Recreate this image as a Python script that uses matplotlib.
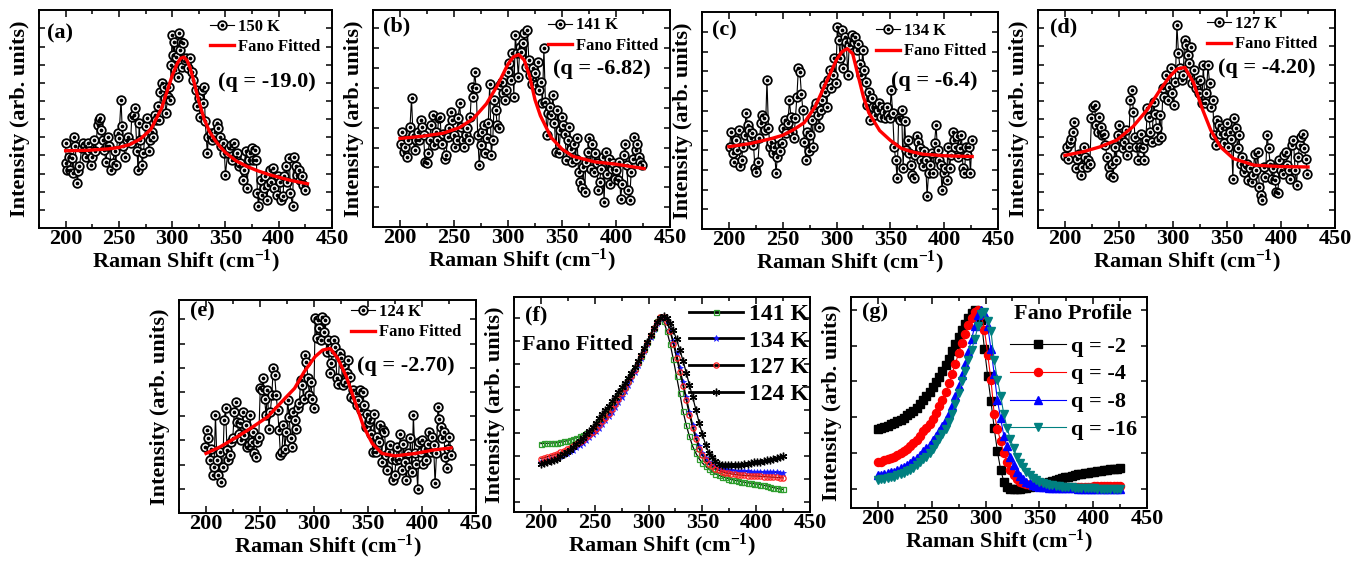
import numpy as np
import matplotlib
matplotlib.use('Agg')
import matplotlib.pyplot as plt
from matplotlib.ticker import MultipleLocator

plt.rcParams['font.family'] = ['Liberation Serif', 'DejaVu Serif']
plt.rcParams['font.weight'] = 'bold'
plt.rcParams['axes.labelweight'] = 'bold'
plt.rcParams['mathtext.fontset'] = 'custom'
plt.rcParams['mathtext.rm'] = 'Liberation Serif:bold'
plt.rcParams['mathtext.bf'] = 'Liberation Serif:bold'
plt.rcParams['mathtext.default'] = 'bf'

# ---------------- data: panel (a) 150 K ----------------
xa = [200, 200.5, 201, 203, 204, 206, 207, 208, 209, 211, 212, 213, 215, 216, 218, 219, 221, 222, 224, 225,
      227, 228, 230, 231, 232, 233, 235, 236, 238, 239, 240, 241, 243, 244, 246, 247, 249, 250, 252, 253,
      254, 256, 258, 259, 261, 262, 264, 265, 267, 268, 269, 270, 272, 273, 275, 276, 278, 279, 281, 282,
      284, 285, 287, 288, 289, 290, 292, 293, 294, 296, 297, 298, 299, 300, 301, 302, 303, 304, 305, 306,
      307, 308, 309, 310, 312, 313, 315, 317, 319, 320, 322, 323, 325, 326, 328, 329, 330, 331, 333, 334,
      336, 337, 339, 340, 342, 343, 345, 346, 348, 349, 350, 352, 353, 355, 356, 358, 360, 361, 363, 364,
      366, 367, 369, 370, 372, 373, 375, 376, 378, 379, 380, 381, 383, 384, 386, 387, 389, 390, 392, 393,
      395, 396, 398, 399, 401, 402, 404, 405, 407, 408, 410, 411, 413, 414, 416, 417, 419, 420, 422, 423, 425]
ya = [2.34, 1.79, 1.61, 1.97, 1.61, 1.93, 1.51, 2.52, 2.25, 1.24, 1.56, 1.70, 2.20, 2.34, 2.25, 1.97, 2.34, 2.11, 1.74, 1.97,
      2.43, 2.11, 2.84, 2.98, 3.03, 2.71, 2.43, 2.16, 1.83, 2.25, 2.52, 2.25, 1.61, 1.79, 2.11, 1.74, 2.61, 2.48, 3.53, 2.80,
      2.25, 1.97, 2.43, 2.52, 2.34, 3.07, 3.12, 3.30, 2.11, 1.61, 2.89, 2.43, 1.74, 2.06, 2.80, 3.03, 2.11, 2.43, 2.66, 2.52,
      3.12, 2.98, 3.35, 2.98, 3.76, 3.99, 3.90, 3.58, 3.17, 3.62, 3.90, 3.53, 4.50, 5.32, 4.77, 5.14, 4.36, 4.72, 4.17, 5.37,
      4.91, 5.14, 4.45, 5.09, 4.63, 4.68, 4.40, 4.68, 4.31, 4.08, 3.81, 3.35, 3.58, 3.07, 3.81, 3.44, 3.90, 2.94, 2.06, 2.52,
      2.61, 2.43, 2.52, 2.66, 2.89, 2.75, 2.52, 2.25, 2.34, 2.06, 1.47, 2.06, 2.20, 2.29, 1.88, 2.34, 1.97, 2.06, 1.70, 1.79,
      1.33, 1.61, 2.11, 1.10, 1.88, 2.06, 2.20, 1.88, 2.16, 1.88, 0.96, 0.60, 1.33, 0.92, 1.10, 1.42, 0.78, 1.19, 1.61, 1.28,
      1.65, 1.10, 0.92, 1.42, 1.28, 0.78, 0.87, 1.42, 1.70, 1.28, 1.93, 0.96, 0.60, 1.97, 1.70, 1.47, 1.61, 1.33, 1.42, 1.19, 1.06]
fit_xa = [200, 220, 240, 250, 260, 270, 280, 290, 295, 300, 305, 308, 311, 314, 317, 320, 325, 330, 335, 340, 345, 350,
          360, 370, 380, 390, 400, 410, 420, 427]
fit_ya = [2.13, 2.14, 2.18, 2.22, 2.30, 2.45, 2.72, 3.30, 3.75, 4.20, 4.55, 4.68, 4.71, 4.62, 4.40, 4.08, 3.50, 3.00, 2.66,
          2.43, 2.24, 2.08, 1.85, 1.70, 1.58, 1.48, 1.40, 1.32, 1.26, 1.22]

# ---------------- panel (b) 141 K ----------------
xb_range = (200.9, 423.8)
yb = [2.10, 2.40, 1.89, 2.02, 1.77, 2.19, 2.52, 3.24, 2.31, 1.93, 2.19, 2.40, 2.19, 2.69, 2.52, 2.31, 1.64, 1.60, 1.85, 2.19,
      2.56, 2.81, 2.06, 2.40, 2.19, 2.73, 2.77, 2.10, 2.35, 1.72, 1.81, 2.27, 2.48, 2.90, 2.69, 2.31, 2.02, 2.19, 2.73, 3.11,
      2.52, 2.19, 2.02, 2.31, 2.48, 2.19, 2.77, 3.53, 3.28, 3.91, 3.49, 2.31, 1.56, 2.06, 2.40, 2.56, 1.85, 2.23, 2.61, 3.61,
      1.81, 2.19, 3.19, 2.94, 2.56, 2.48, 3.57, 3.66, 3.36, 3.19, 3.45, 3.91, 4.12, 3.70, 4.37, 3.28, 4.83, 4.37, 3.78, 4.54,
      4.41, 4.62, 4.87, 4.03, 4.96, 4.20, 3.82, 3.61, 4.01, 3.87, 3.57, 4.16, 3.45, 3.66, 3.11, 4.50, 3.15, 2.31, 2.86, 3.03,
      2.81, 3.32, 2.61, 1.89, 2.94, 1.85, 2.44, 2.77, 2.56, 2.35, 1.68, 2.19, 2.52, 1.97, 1.64, 2.10, 1.72, 2.23, 1.39, 1.13,
      0.97, 1.51, 0.88, 1.64, 1.89, 2.23, 1.47, 2.10, 1.39, 1.85, 1.60, 0.92, 1.13, 1.47, 1.77, 0.63, 1.89, 1.34, 1.72, 1.09,
      1.47, 1.60, 1.22, 1.43, 1.18, 1.64, 0.71, 1.09, 1.81, 2.10, 1.56, 0.92, 0.67, 1.39, 1.72, 2.27, 1.93, 2.10, 1.77, 1.64, 1.56]
fit_xb = [200, 220, 240, 255, 268, 280, 290, 300, 305, 310, 315, 320, 325, 330, 340, 350, 360, 380, 400, 426]
fit_yb = [2.23, 2.28, 2.36, 2.50, 2.73, 3.10, 3.55, 4.10, 4.28, 4.34, 4.20, 3.80, 3.20, 2.80, 2.25, 1.96, 1.78, 1.64, 1.58, 1.47]

# ---------------- panel (c) 134 K ----------------
xc_range = (200.6, 425.8)
yc = [2.09, 2.47, 1.92, 1.71, 2.26, 2.01, 2.51, 1.59, 1.76, 2.09, 2.39, 2.94, 2.64, 2.51, 2.30, 2.43, 2.13, 1.54, 1.46, 1.71,
      2.30, 2.68, 2.89, 2.81, 2.51, 3.78, 2.56, 2.09, 2.22, 1.92, 2.09, 1.42, 1.84, 2.13, 1.97, 2.18, 2.56, 2.77, 2.43, 2.68,
      3.27, 2.85, 2.47, 2.30, 2.81, 3.36, 4.08, 3.99, 3.44, 3.02, 2.22, 1.76, 2.47, 1.97, 2.39, 2.77, 2.09, 3.06, 3.19, 2.89,
      2.60, 3.02, 3.27, 3.65, 3.48, 3.11, 3.78, 4.03, 3.57, 3.91, 4.33, 3.70, 5.13, 4.79, 4.33, 5.05, 4.08, 4.88, 4.75, 3.91,
      4.67, 4.79, 4.92, 4.75, 4.88, 4.54, 4.71, 4.20, 3.91, 4.54, 4.03, 3.74, 3.15, 3.49, 2.77, 3.32, 3.11, 2.89, 3.11, 3.02,
      3.19, 2.85, 3.11, 2.98, 2.81, 3.11, 2.89, 2.81, 3.53, 2.94, 2.09, 1.76, 1.29, 2.81, 2.77, 3.02, 1.54, 2.73, 2.01, 2.26,
      1.92, 1.63, 1.37, 1.29, 1.88, 2.35, 2.22, 2.05, 1.76, 1.59, 1.97, 1.76, 0.83, 1.42, 1.63, 1.92, 1.42, 2.18, 2.64, 2.01,
      1.76, 1.63, 1.00, 1.42, 1.54, 1.25, 2.09, 1.54, 1.88, 2.47, 2.26, 2.09, 2.35, 1.84, 2.05, 2.39, 1.54, 1.42, 2.09, 1.88,
      2.09, 1.42, 2.26]
fit_xc = [200, 220, 240, 250, 260, 270, 280, 290, 300, 305, 310, 315, 320, 325, 330, 340, 350, 360, 370, 380, 400, 426]
fit_yc = [2.09, 2.17, 2.30, 2.38, 2.52, 2.70, 3.10, 3.70, 4.30, 4.50, 4.58, 4.45, 3.90, 3.35, 2.95, 2.50, 2.25, 2.05, 1.96,
          1.90, 1.86, 1.84]

# ---------------- panel (d) 127 K ----------------
xd_range = (200.0, 424.5)
yd = [1.98, 2.23, 1.91, 2.33, 2.46, 2.65, 2.93, 1.64, 1.91, 2.05, 1.45, 1.68, 2.23, 1.96, 1.68, 1.87, 1.77, 3.02, 3.34, 3.38,
      2.83, 2.65, 3.06, 2.79, 2.56, 2.60, 2.28, 1.96, 1.68, 1.45, 1.77, 1.41, 2.23, 1.87, 2.56, 2.83, 2.46, 2.19, 2.37, 2.69,
      2.00, 2.23, 3.52, 3.80, 3.20, 2.51, 2.23, 1.87, 2.23, 2.60, 2.19, 1.87, 2.42, 3.29, 3.06, 2.65, 2.37, 3.48, 3.15, 2.74,
      2.42, 3.11, 2.51, 3.84, 3.61, 4.21, 3.52, 3.89, 4.40, 3.71, 3.38, 4.03, 5.59, 4.81, 4.40, 4.08, 4.21, 5.18, 5.04, 4.77,
      4.53, 4.99, 3.98, 4.35, 3.84, 4.03, 3.71, 4.08, 3.43, 4.49, 3.43, 3.71, 4.49, 3.98, 3.34, 3.52, 2.56, 2.28, 2.97, 2.83,
      2.60, 2.74, 2.33, 2.60, 2.88, 2.23, 2.65, 2.46, 1.36, 3.02, 2.74, 2.19, 2.56, 1.77, 1.96, 1.54, 1.68, 1.77, 1.31, 1.64,
      1.27, 1.45, 2.05, 1.59, 2.10, 1.13, 0.90, 0.76, 1.68, 1.41, 2.56, 2.19, 1.77, 1.36, 1.64, 1.31, 0.99, 0.95, 1.87, 1.59,
      1.50, 2.00, 2.10, 1.73, 1.59, 1.36, 2.28, 2.42, 1.59, 1.18, 1.96, 2.28, 2.51, 2.60, 2.19, 1.91, 1.50]
fit_xd = [200, 217, 232, 248, 263, 276, 288, 297, 304, 311, 319, 327, 335, 344, 356, 375, 400, 425]
fit_yd = [2.00, 2.10, 2.23, 2.42, 2.79, 3.25, 3.80, 4.17, 4.38, 4.42, 4.00, 3.29, 2.69, 2.23, 1.91, 1.73, 1.69, 1.68]

# ---------------- panel (e) 124 K ----------------
xe_range = (199.4, 426.8)
ye = [2.73, 3.42, 3.08, 2.18, 2.66, 1.56, 1.91, 4.04, 2.18, 1.56, 2.53, 1.28, 1.91, 3.84, 4.32, 2.59, 2.18, 2.39, 2.94, 3.08,
      4.18, 4.59, 3.77, 3.28, 3.70, 3.01, 4.18, 3.22, 3.63, 2.73, 2.80, 4.04, 2.94, 3.35, 2.46, 2.32, 2.94, 3.15, 5.15, 5.08,
      5.56, 4.73, 4.04, 5.08, 3.49, 4.18, 4.87, 5.97, 5.70, 4.87, 4.25, 3.42, 2.39, 2.53, 3.63, 2.66, 3.35, 4.66, 3.97, 3.08,
      2.73, 4.18, 3.84, 3.49, 4.32, 4.53, 5.49, 5.28, 4.73, 6.52, 6.25, 5.56, 4.87, 5.42, 4.73, 4.32, 8.04, 7.21, 7.97, 7.63,
      7.15, 8.11, 7.49, 7.97, 6.66, 7.15, 5.77, 6.18, 6.66, 7.15, 6.87, 5.56, 5.35, 6.59, 6.39, 5.28, 6.11, 5.42, 5.77, 6.32,
      5.63, 4.80, 5.08, 4.73, 4.94, 4.46, 4.66, 5.08, 4.25, 5.01, 4.46, 3.56, 4.11, 3.77, 3.90, 3.28, 2.53, 4.11, 2.53, 3.15,
      2.94, 3.63, 2.11, 3.42, 3.35, 2.39, 1.77, 2.53, 2.80, 2.25, 1.35, 1.56, 2.18, 2.73, 2.25, 3.28, 1.77, 2.87, 2.11, 1.35,
      2.46, 1.91, 3.08, 1.70, 4.04, 2.46, 2.04, 1.01, 2.94, 2.53, 3.01, 2.04, 2.66, 2.18, 2.87, 3.35, 2.53, 3.15, 2.80, 1.22,
      2.46, 4.39, 3.90, 3.56, 3.08, 3.35, 2.32, 1.84, 2.66, 3.15, 2.39]
fit_xe = [200, 213, 229, 241, 257, 270, 282, 291, 301, 308, 315, 322, 330, 338, 346, 354, 363, 375, 394, 410, 427]
fit_ye = [2.46, 2.73, 3.15, 3.49, 3.97, 4.59, 5.15, 5.84, 6.46, 6.73, 6.80, 6.39, 5.63, 4.59, 3.56, 2.87, 2.46, 2.36, 2.46,
          2.60, 2.69]

# ---------------- panel (f) fitted curves, x grid 200..425 step 3 ----------------
xf = list(range(200, 426, 3))
f141 = [3.54, 3.55, 3.55, 3.56, 3.57, 3.58, 3.60, 3.63, 3.66, 3.70, 3.75, 3.80, 3.86, 3.92, 3.98, 4.04, 4.15, 4.30, 4.47, 4.64,
        4.82, 5.00, 5.20, 5.40, 5.62, 5.83, 6.03, 6.28, 6.54, 6.82, 7.07, 7.35, 7.64, 7.94, 8.25, 8.56, 8.86, 9.03, 8.86, 8.42,
        7.88, 7.20, 6.46, 5.72, 4.95, 4.35, 3.85, 3.42, 3.12, 2.88, 2.70, 2.56, 2.43, 2.33, 2.24, 2.17, 2.11, 2.07, 2.02, 1.98,
        1.95, 1.92, 1.89, 1.86, 1.84, 1.82, 1.80, 1.78, 1.76, 1.73, 1.70, 1.66, 1.63, 1.60, 1.57, 1.55]
f134 = [2.74, 2.78, 2.83, 2.87, 2.92, 2.96, 3.02, 3.08, 3.14, 3.21, 3.28, 3.37, 3.47, 3.58, 3.70, 3.82, 3.94, 4.08, 4.23, 4.39,
        4.55, 4.72, 4.91, 5.11, 5.33, 5.57, 5.80, 6.07, 6.35, 6.65, 6.95, 7.24, 7.55, 7.86, 8.18, 8.50, 8.78, 9.00, 9.02, 8.85,
        8.48, 7.98, 7.45, 6.82, 6.19, 5.56, 4.92, 4.36, 3.86, 3.44, 3.14, 2.90, 2.76, 2.65, 2.56, 2.50, 2.45, 2.42, 2.39, 2.38,
        2.37, 2.36, 2.35, 2.34, 2.33, 2.32, 2.32, 2.31, 2.31, 2.30, 2.30, 2.29, 2.29, 2.29, 2.28, 2.28]
f127 = [2.89, 2.93, 2.97, 3.01, 3.06, 3.10, 3.16, 3.22, 3.29, 3.35, 3.42, 3.51, 3.60, 3.71, 3.82, 3.92, 4.04, 4.19, 4.35, 4.51,
        4.67, 4.84, 5.04, 5.25, 5.48, 5.72, 5.95, 6.22, 6.48, 6.75, 7.02, 7.32, 7.62, 7.92, 8.23, 8.55, 8.82, 9.02, 9.04, 8.82,
        8.42, 7.87, 7.27, 6.66, 6.05, 5.42, 4.78, 4.22, 3.73, 3.31, 3.03, 2.81, 2.66, 2.55, 2.45, 2.38, 2.32, 2.28, 2.25, 2.22,
        2.20, 2.18, 2.17, 2.16, 2.15, 2.14, 2.13, 2.13, 2.12, 2.11, 2.10, 2.09, 2.08, 2.07, 2.06, 2.05]
f124 = [2.64, 2.69, 2.74, 2.79, 2.84, 2.89, 2.98, 3.08, 3.18, 3.28, 3.39, 3.52, 3.65, 3.80, 3.95, 4.10, 4.27, 4.45, 4.63, 4.82,
        4.99, 5.18, 5.38, 5.58, 5.78, 5.98, 6.15, 6.38, 6.62, 6.88, 7.12, 7.40, 7.68, 7.95, 8.26, 8.56, 8.82, 9.01, 9.07, 8.97,
        8.76, 8.45, 8.06, 7.62, 7.14, 6.62, 6.08, 5.55, 5.01, 4.45, 3.95, 3.48, 3.15, 2.96, 2.78, 2.67, 2.62, 2.60, 2.59, 2.59,
        2.60, 2.61, 2.63, 2.65, 2.67, 2.69, 2.72, 2.74, 2.76, 2.79, 2.81, 2.84, 2.88, 2.92, 2.96, 3.00]

# ---------------- panel (g) Fano profiles, x grid 200..425 step 3 ----------------
xg = list(range(200, 426, 3))
gq2 = [1.67, 1.70, 1.73, 1.76, 1.80, 1.83, 1.88, 1.93, 1.99, 2.05, 2.11, 2.18, 2.27, 2.37, 2.47, 2.58, 2.70, 2.84, 2.97, 3.13,
       3.30, 3.46, 3.64, 3.84, 4.05, 4.25, 4.43, 4.60, 4.76, 4.90, 4.99, 4.96, 4.73, 3.90, 3.15, 2.45, 1.70, 1.05, 0.53, 0.20,
       0.05, 0.00, -0.02, -0.02, -0.01, 0.01, 0.03, 0.05, 0.07, 0.09, 0.12, 0.15, 0.17, 0.20, 0.22, 0.25, 0.28, 0.30, 0.32, 0.34,
       0.36, 0.38, 0.40, 0.41, 0.43, 0.44, 0.46, 0.47, 0.49, 0.50, 0.51, 0.53, 0.54, 0.55, 0.56, 0.57]
gq4 = [0.74, 0.76, 0.79, 0.82, 0.86, 0.90, 0.95, 1.00, 1.06, 1.12, 1.18, 1.27, 1.37, 1.48, 1.60, 1.70, 1.82, 1.96, 2.12, 2.30,
       2.48, 2.70, 2.95, 3.22, 3.50, 3.79, 4.06, 4.32, 4.57, 4.78, 4.93, 5.00, 4.85, 4.45, 3.75, 3.05, 2.10, 1.68, 1.32, 1.01,
       0.74, 0.53, 0.38, 0.27, 0.20, 0.15, 0.12, 0.10, 0.09, 0.08, 0.07, 0.07, 0.07, 0.06, 0.06, 0.06, 0.06, 0.06, 0.06, 0.06,
       0.06, 0.06, 0.06, 0.06, 0.06, 0.06, 0.06, 0.07, 0.07, 0.07, 0.07, 0.07, 0.07, 0.07, 0.07, 0.08]
gq8 = [0.37, 0.39, 0.41, 0.43, 0.46, 0.48, 0.52, 0.57, 0.62, 0.67, 0.72, 0.79, 0.86, 0.95, 1.04, 1.13, 1.23, 1.35, 1.48, 1.61,
       1.75, 1.92, 2.10, 2.32, 2.58, 2.87, 3.18, 3.50, 3.83, 4.18, 4.55, 4.85, 5.00, 4.90, 4.55, 3.90, 3.22, 2.48, 1.97, 1.48,
       1.18, 0.90, 0.65, 0.48, 0.36, 0.27, 0.20, 0.15, 0.11, 0.08, 0.06, 0.05, 0.04, 0.03, 0.03, 0.02, 0.02, 0.02, 0.01, 0.01,
       0.01, 0.01, 0.00, 0.00, 0.00, 0.00, 0.00, 0.00, 0.00, 0.00, 0.00, 0.00, 0.00, 0.00, 0.00, 0.00]
gq16 = [0.25, 0.26, 0.28, 0.30, 0.32, 0.34, 0.37, 0.41, 0.45, 0.49, 0.53, 0.59, 0.66, 0.74, 0.82, 0.90, 1.00, 1.12, 1.25, 1.38,
        1.52, 1.68, 1.87, 2.10, 2.38, 2.68, 3.00, 3.30, 3.60, 3.88, 4.18, 4.55, 4.88, 4.95, 4.70, 4.42, 3.60, 3.05, 2.60, 2.08,
        1.70, 1.39, 1.13, 0.89, 0.73, 0.60, 0.48, 0.37, 0.29, 0.23, 0.18, 0.15, 0.13, 0.11, 0.09, 0.08, 0.07, 0.06, 0.05, 0.04,
        0.04, 0.03, 0.03, 0.02, 0.02, 0.01, 0.01, 0.01, 0.00, 0.00, 0.00, 0.00, 0.00, 0.00, 0.00, 0.00]

xticks = [200, 250, 300, 350, 400, 450]

# ---------------- figure ----------------
W, H = 1366, 563
fig = plt.figure(figsize=(W / 100, H / 100), dpi=100)
fig.patch.set_facecolor('white')


def add_ax(l, t, r, b):
    return fig.add_axes([l / W, 1 - b / H, (r - l) / W, (b - t) / H])


def style(ax, ylim, yt):
    ax.set_xlim(175, 450)
    ax.set_ylim(*ylim)
    ax.set_xticks(xticks)
    ax.set_xticklabels([str(v) for v in xticks])
    ax.xaxis.set_minor_locator(MultipleLocator(25))
    ax.set_yticks(yt)
    ax.set_yticklabels([])
    ax.tick_params(which='both', direction='in', top=True, right=True, width=1.1)
    ax.tick_params(axis='x', which='major', length=5, labelsize=16, pad=1)
    ax.tick_params(axis='x', which='minor', length=3)
    ax.tick_params(axis='y', which='major', length=4)
    for s in ax.spines.values():
        s.set_linewidth(1.4)
    ax.set_xlabel('Raman Shift (cm$^{-1}$)', fontsize=16, labelpad=-1)
    ax.set_ylabel('Intensity (arb. units)', fontsize=16, labelpad=3)


half_a = [0.5, 1.0, 1.5, 2.0, 2.5, 3.0, 3.5, 4.0, 4.5, 5.0, 5.5]
half_b = [0.5, 1.0, 1.5, 2.0, 2.5, 3.0, 3.5, 4.0, 4.5, 5.0]

exp_panels = [
    dict(box=(39, 10, 332, 228), x=xa, y=ya, fx=fit_xa, fy=fit_ya, temp='150 K', q='(q = -19.0)', tag='(a)',
         ylim=(0, 6.01), yt=half_a, tagpos=(0.027, 0.894), qpos=(0.61, 0.67), legpos=(0.584, 0.958)),
    dict(box=(373, 10, 670, 227), x=np.linspace(*xb_range, len(yb)), y=yb, fx=fit_xb, fy=fit_yb, temp='141 K',
         q='(q = -6.82)', tag='(b)', ylim=(0, 5.46), yt=half_b,
         tagpos=(0.034, 0.926), qpos=(0.606, 0.73), legpos=(0.589, 0.966)),
    dict(box=(702, 12, 998, 229), x=np.linspace(*xc_range, len(yc)), y=yc, fx=fit_xc, fy=fit_yc, temp='134 K',
         q='(q = -6.4)', tag='(c)', ylim=(0, 5.51), yt=half_b,
         tagpos=(0.034, 0.917), qpos=(0.64, 0.68), legpos=(0.588, 0.948)),
    dict(box=(1038, 10, 1335, 228), x=np.linspace(*xd_range, len(yd)), y=yd, fx=fit_xd, fy=fit_yd, temp='127 K',
         q='(q = -4.20)', tag='(d)', ylim=(0, 6.0), yt=half_a,
         tagpos=(0.04, 0.922), qpos=(0.606, 0.734), legpos=(0.569, 0.971)),
    dict(box=(179, 300, 476, 513), x=np.linspace(*xe_range, len(ye)), y=ye, fx=fit_xe, fy=fit_ye, temp='124 K',
         q='(q = -2.70)', tag='(e)', ylim=(0, 8.8), yt=[1, 2, 3, 4, 5, 6, 7, 8],
         tagpos=(0.037, 0.944), qpos=(0.60, 0.69), legpos=(0.579, 0.98)),
]

for p in exp_panels:
    ax = add_ax(*p['box'])
    n = min(len(p['x']), len(p['y']))
    x = np.asarray(p['x'][:n], dtype=float)
    y = np.asarray(p['y'][:n], dtype=float)
    hd, = ax.plot(x, y, '-', color='black', lw=0.8, marker='o', ms=6.2, mfc='white', mec='black', mew=1.3, zorder=2)
    hdot, = ax.plot(x, y, ls='none', marker='o', ms=1.7, color='black', zorder=3)
    hf, = ax.plot(p['fx'], p['fy'], '-', color='red', lw=2.4, zorder=4)
    style(ax, p['ylim'], p['yt'])
    ax.text(*p['tagpos'], p['tag'], transform=ax.transAxes, fontsize=16, ha='left', va='center')
    ax.text(*p['qpos'], p['q'], transform=ax.transAxes, fontsize=16, ha='left', va='center')
    ax.legend([(hd, hdot), hf], [p['temp'], 'Fano Fitted'], loc='upper left', bbox_to_anchor=p['legpos'],
              frameon=False, fontsize=12, handlelength=1.45, handletextpad=0.25, labelspacing=0.25,
              borderpad=0, borderaxespad=0, numpoints=1)

# ---------------- panel (f) ----------------
axf = add_ax(514, 297, 810, 512)
f_series = [
    ('141 K', f141, dict(marker='s', ms=3.6, mfc='none', mec='#2f9e2f', mew=0.9)),
    ('134 K', f134, dict(marker='*', ms=5.0, mfc='#1a1aff', mec='#1a1aff', mew=0.5)),
    ('127 K', f127, dict(marker='o', ms=3.8, mfc='none', mec='#ff2020', mew=0.9)),
    ('124 K', f124, dict(marker=(6, 2, 0), ms=5.5, mec='black', mew=1.0)),
]
fh = []
for lab, ys, mk in f_series:
    n = min(len(xf), len(ys))
    h, = axf.plot(xf[:n], ys[:n], '-', color='black', lw=0.9, label=lab, **mk)
    fh.append(h)
style(axf, (0.57, 9.9), [1, 2, 3, 4, 5, 6, 7, 8, 9])
axf.text(0.037, 0.916, '(f)', transform=axf.transAxes, fontsize=16, ha='left', va='center')
axf.text(0.028, 0.777, 'Fano Fitted', transform=axf.transAxes, fontsize=16, ha='left', va='center')
legf = axf.legend(handles=fh, loc='upper left', bbox_to_anchor=(0.591, 0.97), frameon=False, fontsize=17,
                  handlelength=2.3, handletextpad=0.25, labelspacing=0.22, borderpad=0, borderaxespad=0,
                  numpoints=1)
for lh in legf.get_lines():
    lh.set_linewidth(2.0)

# ---------------- panel (g) ----------------
axg = add_ax(851, 297, 1147, 508)
g_series = [
    ('q = -2', gq2, 'black', 's', 5.2),
    ('q = -4', gq4, '#ff0000', 'o', 5.8),
    ('q = -8', gq8, '#0000ff', '^', 6.2),
    ('q = -16', gq16, '#008080', 'v', 6.2),
]
gh = []
for lab, ys, col, mk, ms in g_series:
    n = min(len(xg), len(ys))
    h, = axg.plot(xg[:n], ys[:n], '-', color=col, lw=0.8, marker=mk, ms=ms, mfc=col, mec=col, label=lab)
    gh.append(h)
style(axg, (-0.54, 5.36), [0, 1, 2, 3, 4, 5])
axg.text(0.037, 0.929, '(g)', transform=axg.transAxes, fontsize=16, ha='left', va='center')
axg.text(0.55, 0.92, 'Fano Profile', transform=axg.transAxes, fontsize=16, ha='left', va='center')
axg.legend(handles=gh, loc='upper left', bbox_to_anchor=(0.537, 0.815), frameon=False, fontsize=16,
           handlelength=2.5, handletextpad=0.25, labelspacing=0.33, borderpad=0, borderaxespad=0, numpoints=1)

fig.savefig('out.png', dpi=100, facecolor='white')
